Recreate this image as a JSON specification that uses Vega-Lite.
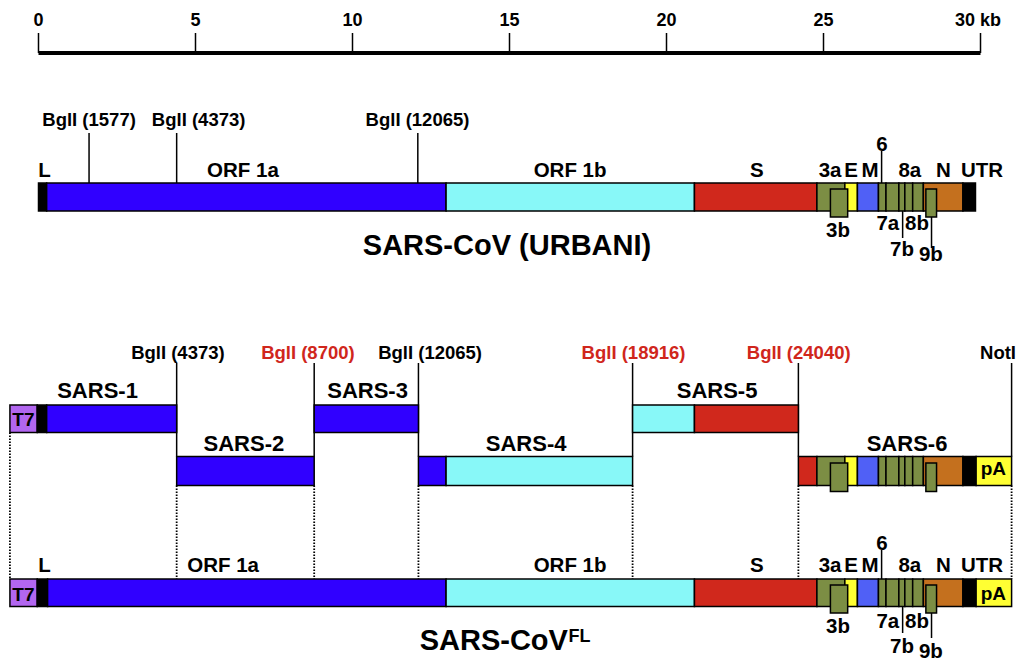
{
  "$schema": "https://vega.github.io/schema/vega-lite/v6.json",
  "width": 1031,
  "height": 661,
  "autosize": "none",
  "padding": 0,
  "background": "white",
  "config": {"view": {"stroke": null}, "text": {"font": "Liberation Sans", "fontWeight": "bold"}},
  "datasets": {
    "segs": [
      {"track": "URBANI", "part": "L", "type": "black", "box": false, "x": 0, "x2": 0.26, "y": 183, "y2": 211},
      {"track": "URBANI", "part": "ORF 1a", "type": "orf1a", "box": false, "x": 0.26, "x2": 12.98, "y": 183, "y2": 211},
      {"track": "URBANI", "part": "ORF 1b", "type": "orf1b", "box": false, "x": 12.98, "x2": 20.89, "y": 183, "y2": 211},
      {"track": "URBANI", "part": "S", "type": "S", "box": false, "x": 20.89, "x2": 24.79, "y": 183, "y2": 211},
      {"track": "URBANI", "part": "3a", "type": "acc", "box": false, "x": 24.79, "x2": 25.68, "y": 183, "y2": 211},
      {"track": "URBANI", "part": "E", "type": "E", "box": false, "x": 25.68, "x2": 26.08, "y": 183, "y2": 211},
      {"track": "URBANI", "part": "M", "type": "M", "box": false, "x": 26.08, "x2": 26.75, "y": 183, "y2": 211},
      {"track": "URBANI", "part": "6", "type": "acc", "box": false, "x": 26.75, "x2": 26.99, "y": 183, "y2": 211},
      {"track": "URBANI", "part": "7a", "type": "acc", "box": false, "x": 26.99, "x2": 27.4, "y": 183, "y2": 211},
      {"track": "URBANI", "part": "7b", "type": "acc", "box": false, "x": 27.4, "x2": 27.59, "y": 183, "y2": 211},
      {"track": "URBANI", "part": "8a", "type": "acc", "box": false, "x": 27.59, "x2": 27.84, "y": 183, "y2": 211},
      {"track": "URBANI", "part": "8b", "type": "acc", "box": false, "x": 27.84, "x2": 28.18, "y": 183, "y2": 211},
      {"track": "URBANI", "part": "N", "type": "N", "box": false, "x": 28.18, "x2": 29.44, "y": 183, "y2": 211},
      {"track": "URBANI", "part": "UTR", "type": "black", "box": false, "x": 29.44, "x2": 29.84, "y": 183, "y2": 211},
      {"track": "URBANI", "part": "3b", "type": "acc", "box": true, "x": 25.22, "x2": 25.77, "y": 189, "y2": 217},
      {"track": "URBANI", "part": "9b", "type": "acc", "box": true, "x": 28.26, "x2": 28.6, "y": 189, "y2": 217},

      {"track": "SARS-1", "part": "T7", "type": "T7", "box": false, "x": -0.91, "x2": -0.04, "y": 405, "y2": 432.5},
      {"track": "SARS-1", "part": "L", "type": "black", "box": false, "x": -0.04, "x2": 0.26, "y": 405, "y2": 432.5},
      {"track": "SARS-1", "part": "ORF 1a", "type": "orf1a", "box": false, "x": 0.26, "x2": 4.4, "y": 405, "y2": 432.5},
      {"track": "SARS-2", "part": "ORF 1a", "type": "orf1a", "box": false, "x": 4.4, "x2": 8.78, "y": 456.5, "y2": 485.5},
      {"track": "SARS-3", "part": "ORF 1a", "type": "orf1a", "box": false, "x": 8.78, "x2": 12.1, "y": 405, "y2": 432.5},
      {"track": "SARS-4", "part": "ORF 1a", "type": "orf1a", "box": false, "x": 12.1, "x2": 12.98, "y": 456.5, "y2": 485.5},
      {"track": "SARS-4", "part": "ORF 1b", "type": "orf1b", "box": false, "x": 12.98, "x2": 18.92, "y": 456.5, "y2": 485.5},
      {"track": "SARS-5", "part": "ORF 1b", "type": "orf1b", "box": false, "x": 18.92, "x2": 20.89, "y": 405, "y2": 432.5},
      {"track": "SARS-5", "part": "S", "type": "S", "box": false, "x": 20.89, "x2": 24.2, "y": 405, "y2": 432.5},
      {"track": "SARS-6", "part": "S", "type": "S", "box": false, "x": 24.2, "x2": 24.79, "y": 456.5, "y2": 485.5},
      {"track": "SARS-6", "part": "3a", "type": "acc", "box": false, "x": 24.79, "x2": 25.68, "y": 456.5, "y2": 485.5},
      {"track": "SARS-6", "part": "E", "type": "E", "box": false, "x": 25.68, "x2": 26.08, "y": 456.5, "y2": 485.5},
      {"track": "SARS-6", "part": "M", "type": "M", "box": false, "x": 26.08, "x2": 26.75, "y": 456.5, "y2": 485.5},
      {"track": "SARS-6", "part": "6", "type": "acc", "box": false, "x": 26.75, "x2": 26.99, "y": 456.5, "y2": 485.5},
      {"track": "SARS-6", "part": "7a", "type": "acc", "box": false, "x": 26.99, "x2": 27.4, "y": 456.5, "y2": 485.5},
      {"track": "SARS-6", "part": "7b", "type": "acc", "box": false, "x": 27.4, "x2": 27.59, "y": 456.5, "y2": 485.5},
      {"track": "SARS-6", "part": "8a", "type": "acc", "box": false, "x": 27.59, "x2": 27.84, "y": 456.5, "y2": 485.5},
      {"track": "SARS-6", "part": "8b", "type": "acc", "box": false, "x": 27.84, "x2": 28.18, "y": 456.5, "y2": 485.5},
      {"track": "SARS-6", "part": "N", "type": "N", "box": false, "x": 28.18, "x2": 29.44, "y": 456.5, "y2": 485.5},
      {"track": "SARS-6", "part": "UTR", "type": "black", "box": false, "x": 29.44, "x2": 29.86, "y": 456.5, "y2": 485.5},
      {"track": "SARS-6", "part": "pA", "type": "pA", "box": false, "x": 29.86, "x2": 30.99, "y": 456.5, "y2": 485.5},
      {"track": "SARS-6", "part": "3b", "type": "acc", "box": true, "x": 25.22, "x2": 25.77, "y": 463, "y2": 491.5},
      {"track": "SARS-6", "part": "9b", "type": "acc", "box": true, "x": 28.26, "x2": 28.6, "y": 463, "y2": 491.5},

      {"track": "FL", "part": "T7", "type": "T7", "box": false, "x": -0.91, "x2": -0.04, "y": 579, "y2": 606.5},
      {"track": "FL", "part": "L", "type": "black", "box": false, "x": -0.04, "x2": 0.29, "y": 579, "y2": 606.5},
      {"track": "FL", "part": "ORF 1a", "type": "orf1a", "box": false, "x": 0.29, "x2": 12.98, "y": 579, "y2": 606.5},
      {"track": "FL", "part": "ORF 1b", "type": "orf1b", "box": false, "x": 12.98, "x2": 20.89, "y": 579, "y2": 606.5},
      {"track": "FL", "part": "S", "type": "S", "box": false, "x": 20.89, "x2": 24.79, "y": 579, "y2": 606.5},
      {"track": "FL", "part": "3a", "type": "acc", "box": false, "x": 24.79, "x2": 25.68, "y": 579, "y2": 606.5},
      {"track": "FL", "part": "E", "type": "E", "box": false, "x": 25.68, "x2": 26.08, "y": 579, "y2": 606.5},
      {"track": "FL", "part": "M", "type": "M", "box": false, "x": 26.08, "x2": 26.75, "y": 579, "y2": 606.5},
      {"track": "FL", "part": "6", "type": "acc", "box": false, "x": 26.75, "x2": 26.99, "y": 579, "y2": 606.5},
      {"track": "FL", "part": "7a", "type": "acc", "box": false, "x": 26.99, "x2": 27.4, "y": 579, "y2": 606.5},
      {"track": "FL", "part": "7b", "type": "acc", "box": false, "x": 27.4, "x2": 27.59, "y": 579, "y2": 606.5},
      {"track": "FL", "part": "8a", "type": "acc", "box": false, "x": 27.59, "x2": 27.84, "y": 579, "y2": 606.5},
      {"track": "FL", "part": "8b", "type": "acc", "box": false, "x": 27.84, "x2": 28.18, "y": 579, "y2": 606.5},
      {"track": "FL", "part": "N", "type": "N", "box": false, "x": 28.18, "x2": 29.44, "y": 579, "y2": 606.5},
      {"track": "FL", "part": "UTR", "type": "black", "box": false, "x": 29.44, "x2": 29.86, "y": 579, "y2": 606.5},
      {"track": "FL", "part": "pA", "type": "pA", "box": false, "x": 29.86, "x2": 30.99, "y": 579, "y2": 606.5},
      {"track": "FL", "part": "3b", "type": "acc", "box": true, "x": 25.22, "x2": 25.77, "y": 585, "y2": 613},
      {"track": "FL", "part": "9b", "type": "acc", "box": true, "x": 28.26, "x2": 28.6, "y": 585, "y2": 613}
    ],
    "lines": [
      {"kind": "ruler", "x": 0, "x2": 30, "y": 53, "y2": 53},
      {"kind": "tick", "x": 0, "x2": 0, "y": 33, "y2": 53},
      {"kind": "tick", "x": 5, "x2": 5, "y": 33, "y2": 53},
      {"kind": "tick", "x": 10, "x2": 10, "y": 33, "y2": 53},
      {"kind": "tick", "x": 15, "x2": 15, "y": 33, "y2": 53},
      {"kind": "tick", "x": 20, "x2": 20, "y": 33, "y2": 53},
      {"kind": "tick", "x": 25, "x2": 25, "y": 33, "y2": 53},
      {"kind": "tick", "x": 30, "x2": 30, "y": 33, "y2": 53},
      {"kind": "site", "x": 1.61, "x2": 1.61, "y": 133, "y2": 183},
      {"kind": "site", "x": 4.4, "x2": 4.4, "y": 133, "y2": 183},
      {"kind": "site", "x": 12.08, "x2": 12.08, "y": 133, "y2": 183},
      {"kind": "gene", "x": 26.85, "x2": 26.85, "y": 151, "y2": 183},
      {"kind": "gene", "x": 27.52, "x2": 27.52, "y": 211, "y2": 238},
      {"kind": "gene", "x": 28.44, "x2": 28.44, "y": 217, "y2": 248},
      {"kind": "gene", "x": 26.85, "x2": 26.85, "y": 550, "y2": 579},
      {"kind": "gene", "x": 27.52, "x2": 27.52, "y": 606.5, "y2": 633},
      {"kind": "gene", "x": 28.44, "x2": 28.44, "y": 613, "y2": 638},
      {"kind": "site", "x": 4.4, "x2": 4.4, "y": 363, "y2": 456.5},
      {"kind": "site", "x": 8.78, "x2": 8.78, "y": 363, "y2": 456.5},
      {"kind": "site", "x": 12.1, "x2": 12.1, "y": 363, "y2": 456.5},
      {"kind": "site", "x": 18.92, "x2": 18.92, "y": 363, "y2": 456.5},
      {"kind": "site", "x": 24.2, "x2": 24.2, "y": 363, "y2": 456.5},
      {"kind": "site", "x": 30.99, "x2": 30.99, "y": 363, "y2": 456.5},
      {"kind": "dotted", "x": -0.91, "x2": -0.91, "y": 432.5, "y2": 579},
      {"kind": "dotted", "x": 4.4, "x2": 4.4, "y": 485.5, "y2": 579},
      {"kind": "dotted", "x": 8.78, "x2": 8.78, "y": 485.5, "y2": 579},
      {"kind": "dotted", "x": 12.1, "x2": 12.1, "y": 485.5, "y2": 579},
      {"kind": "dotted", "x": 18.92, "x2": 18.92, "y": 485.5, "y2": 579},
      {"kind": "dotted", "x": 24.2, "x2": 24.2, "y": 485.5, "y2": 579},
      {"kind": "dotted", "x": 30.99, "x2": 30.99, "y": 485.5, "y2": 579}
    ],
    "labels": [
      {"kind": "axis", "text": "0", "x": 0, "y": 26},
      {"kind": "axis", "text": "5", "x": 5, "y": 26},
      {"kind": "axis", "text": "10", "x": 10, "y": 26},
      {"kind": "axis", "text": "15", "x": 15, "y": 26},
      {"kind": "axis", "text": "20", "x": 20, "y": 26},
      {"kind": "axis", "text": "25", "x": 25, "y": 26},
      {"kind": "axis", "text": "30 kb", "x": 29.92, "y": 26},

      {"kind": "site", "status": "old", "text": "BglI (1577)", "x": 1.61, "y": 126},
      {"kind": "site", "status": "old", "text": "BglI (4373)", "x": 5.1, "y": 126},
      {"kind": "site", "status": "old", "text": "BglI (12065)", "x": 12.07, "y": 126},
      {"kind": "site", "status": "old", "text": "BglI (4373)", "x": 4.44, "y": 359},
      {"kind": "site", "status": "new", "text": "BglI (8700)", "x": 8.58, "y": 359},
      {"kind": "site", "status": "old", "text": "BglI (12065)", "x": 12.47, "y": 359},
      {"kind": "site", "status": "new", "text": "BglI (18916)", "x": 18.95, "y": 359},
      {"kind": "site", "status": "new", "text": "BglI (24040)", "x": 24.21, "y": 359},
      {"kind": "siteR", "status": "old", "text": "NotI", "x": 31.13, "y": 359},

      {"kind": "frag", "text": "SARS-1", "x": 1.88, "y": 398},
      {"kind": "frag", "text": "SARS-2", "x": 6.54, "y": 451},
      {"kind": "frag", "text": "SARS-3", "x": 10.48, "y": 398},
      {"kind": "frag", "text": "SARS-4", "x": 15.53, "y": 451},
      {"kind": "frag", "text": "SARS-5", "x": 21.61, "y": 398},
      {"kind": "frag", "text": "SARS-6", "x": 27.66, "y": 451},

      {"kind": "gene", "text": "L", "x": 0.19, "y": 177},
      {"kind": "gene", "text": "ORF 1a", "x": 6.51, "y": 177},
      {"kind": "gene", "text": "ORF 1b", "x": 16.93, "y": 177},
      {"kind": "gene", "text": "S", "x": 22.88, "y": 177},
      {"kind": "gene", "text": "3a", "x": 25.21, "y": 177},
      {"kind": "gene", "text": "E", "x": 25.88, "y": 177},
      {"kind": "gene", "text": "M", "x": 26.48, "y": 177},
      {"kind": "gene", "text": "8a", "x": 27.75, "y": 177},
      {"kind": "gene", "text": "N", "x": 28.82, "y": 177},
      {"kind": "gene", "text": "UTR", "x": 30.05, "y": 177},
      {"kind": "gene", "text": "6", "x": 26.86, "y": 151},
      {"kind": "gene", "text": "3b", "x": 25.46, "y": 237},
      {"kind": "gene", "text": "7a", "x": 27.05, "y": 230},
      {"kind": "gene", "text": "8b", "x": 27.98, "y": 230},
      {"kind": "gene", "text": "7b", "x": 27.5, "y": 256},
      {"kind": "gene", "text": "9b", "x": 28.42, "y": 261},

      {"kind": "gene", "text": "L", "x": 0.19, "y": 572},
      {"kind": "gene", "text": "ORF 1a", "x": 5.88, "y": 572},
      {"kind": "gene", "text": "ORF 1b", "x": 16.93, "y": 572},
      {"kind": "gene", "text": "S", "x": 22.88, "y": 572},
      {"kind": "gene", "text": "3a", "x": 25.21, "y": 572},
      {"kind": "gene", "text": "E", "x": 25.88, "y": 572},
      {"kind": "gene", "text": "M", "x": 26.48, "y": 572},
      {"kind": "gene", "text": "8a", "x": 27.75, "y": 572},
      {"kind": "gene", "text": "N", "x": 28.82, "y": 572},
      {"kind": "gene", "text": "UTR", "x": 30.05, "y": 572},
      {"kind": "gene", "text": "6", "x": 26.86, "y": 550},
      {"kind": "gene", "text": "3b", "x": 25.46, "y": 633},
      {"kind": "gene", "text": "7a", "x": 27.05, "y": 628},
      {"kind": "gene", "text": "8b", "x": 27.98, "y": 628},
      {"kind": "gene", "text": "7b", "x": 27.5, "y": 653},
      {"kind": "gene", "text": "9b", "x": 28.42, "y": 658},

      {"kind": "small", "text": "T7", "x": -0.48, "y": 426},
      {"kind": "small", "text": "T7", "x": -0.48, "y": 601},
      {"kind": "small", "text": "pA", "x": 30.41, "y": 475},
      {"kind": "small", "text": "pA", "x": 30.41, "y": 600},

      {"kind": "title", "text": "SARS-CoV (URBANI)", "x": 14.92, "y": 255},
      {"kind": "titleR", "text": "SARS-CoV", "x": 16.86, "y": 650},
      {"kind": "sup", "text": "FL", "x": 16.88, "y": 642}
    ]
  },
  "encoding": {
    "x": {"field": "x", "type": "quantitative", "axis": null, "scale": {"domain": [-1.226, 31.608], "nice": false, "zero": false}},
    "y": {"field": "y", "type": "quantitative", "axis": null, "scale": {"domain": [0, 661], "reverse": true, "nice": false, "zero": false}}
  },
  "layer": [
    {
      "data": {"name": "lines"},
      "transform": [{"filter": "datum.kind === 'tick' || datum.kind === 'site' || datum.kind === 'gene'"}],
      "mark": {"type": "rule", "color": "black", "strokeWidth": 1.5},
      "encoding": {"x2": {"field": "x2"}, "y2": {"field": "y2"}}
    },
    {
      "data": {"name": "lines"},
      "transform": [{"filter": "datum.kind === 'ruler'"}],
      "mark": {"type": "rule", "color": "black", "strokeWidth": 4},
      "encoding": {"x2": {"field": "x2"}, "y2": {"field": "y2"}}
    },
    {
      "data": {"name": "lines"},
      "transform": [{"filter": "datum.kind === 'dotted'"}],
      "mark": {"type": "rule", "color": "black", "strokeWidth": 1.8, "strokeDash": [1.5, 1.5]},
      "encoding": {"x2": {"field": "x2"}, "y2": {"field": "y2"}}
    },
    {
      "data": {"name": "segs"},
      "transform": [{"filter": "!datum.box"}],
      "mark": {"type": "rect", "stroke": "black", "strokeWidth": 1.5},
      "encoding": {
        "x2": {"field": "x2"},
        "y2": {"field": "y2"},
        "fill": {"field": "type", "type": "nominal", "legend": null,
          "scale": {"domain": ["T7", "black", "orf1a", "orf1b", "S", "acc", "E", "M", "N", "pA"],
                    "range": ["#B266F0", "#000000", "#3000FF", "#88F8F8", "#D0281C", "#7C8E44", "#FFFF33", "#5060F6", "#C4701E", "#FFFF33"]}}
      }
    },
    {
      "data": {"name": "segs"},
      "transform": [{"filter": "datum.box"}],
      "mark": {"type": "rect", "stroke": "black", "strokeWidth": 1.5},
      "encoding": {
        "x2": {"field": "x2"},
        "y2": {"field": "y2"},
        "fill": {"field": "type", "type": "nominal", "legend": null}
      }
    },
    {
      "data": {"name": "labels"},
      "transform": [{"filter": "datum.kind === 'axis'"}],
      "mark": {"type": "text", "fontSize": 18, "align": "center", "baseline": "alphabetic", "color": "black"},
      "encoding": {"text": {"field": "text"}}
    },
    {
      "data": {"name": "labels"},
      "transform": [{"filter": "datum.kind === 'site'"}],
      "mark": {"type": "text", "fontSize": 18.5, "align": "center", "baseline": "alphabetic"},
      "encoding": {
        "text": {"field": "text"},
        "color": {"field": "status", "type": "nominal", "legend": null, "scale": {"domain": ["old", "new"], "range": ["#000000", "#D0261C"]}}
      }
    },
    {
      "data": {"name": "labels"},
      "transform": [{"filter": "datum.kind === 'siteR'"}],
      "mark": {"type": "text", "fontSize": 18.5, "align": "right", "baseline": "alphabetic", "color": "black"},
      "encoding": {"text": {"field": "text"}}
    },
    {
      "data": {"name": "labels"},
      "transform": [{"filter": "datum.kind === 'frag'"}],
      "mark": {"type": "text", "fontSize": 22, "align": "center", "baseline": "alphabetic", "color": "black"},
      "encoding": {"text": {"field": "text"}}
    },
    {
      "data": {"name": "labels"},
      "transform": [{"filter": "datum.kind === 'gene'"}],
      "mark": {"type": "text", "fontSize": 20.5, "align": "center", "baseline": "alphabetic", "color": "black"},
      "encoding": {"text": {"field": "text"}}
    },
    {
      "data": {"name": "labels"},
      "transform": [{"filter": "datum.kind === 'small'"}],
      "mark": {"type": "text", "fontSize": 19, "align": "center", "baseline": "alphabetic", "color": "black"},
      "encoding": {"text": {"field": "text"}}
    },
    {
      "data": {"name": "labels"},
      "transform": [{"filter": "datum.kind === 'title'"}],
      "mark": {"type": "text", "fontSize": 29, "align": "center", "baseline": "alphabetic", "color": "black"},
      "encoding": {"text": {"field": "text"}}
    },
    {
      "data": {"name": "labels"},
      "transform": [{"filter": "datum.kind === 'titleR'"}],
      "mark": {"type": "text", "fontSize": 29, "align": "right", "baseline": "alphabetic", "color": "black"},
      "encoding": {"text": {"field": "text"}}
    },
    {
      "data": {"name": "labels"},
      "transform": [{"filter": "datum.kind === 'sup'"}],
      "mark": {"type": "text", "fontSize": 18, "align": "left", "baseline": "alphabetic", "color": "black"},
      "encoding": {"text": {"field": "text"}}
    }
  ]
}
